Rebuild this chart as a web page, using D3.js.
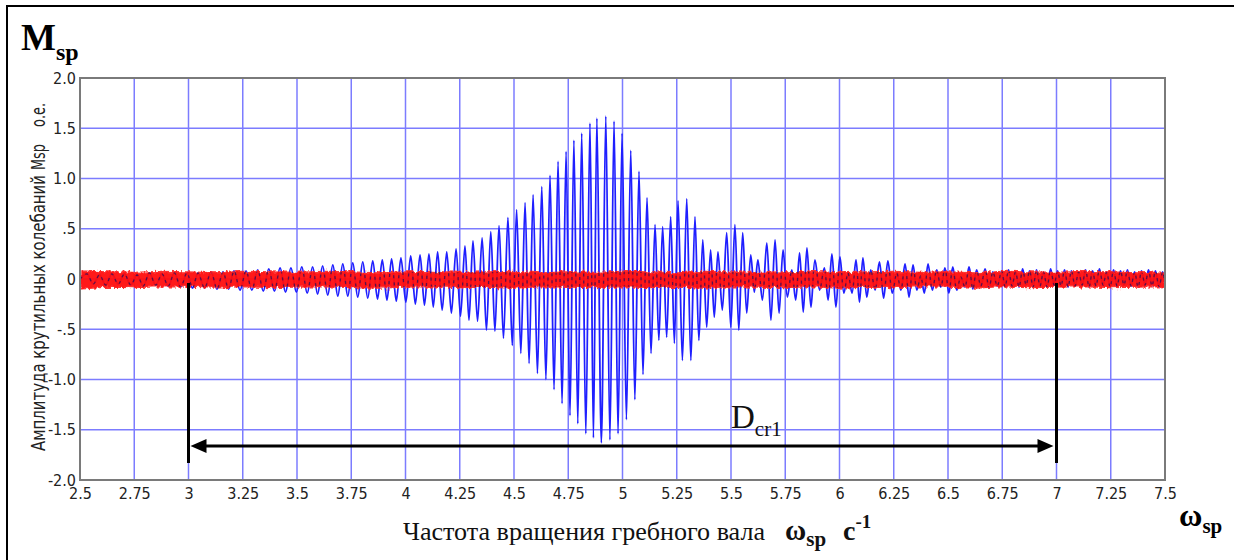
<!DOCTYPE html>
<html>
<head>
<meta charset="utf-8">
<script src="https://cdn.jsdelivr.net/npm/d3@7"></script>
<style>
  body { margin: 0; background: #fff; }
  svg { display: block; }
  .tick text { font-family: "Liberation Sans Narrow", "DejaVu Sans Condensed", Arial, sans-serif; font-size: 16px; fill: #222; }
  .pre { white-space: pre; }
</style>
</head>
<body>
<svg id="chart" width="1234" height="560"></svg>
<script>
// axis ticks and labels
var xTicks = [2.5, 2.75, 3, 3.25, 3.5, 3.75, 4, 4.25, 4.5, 4.75, 5, 5.25, 5.5, 5.75, 6, 6.25, 6.5, 6.75, 7, 7.25, 7.5];
var xTickLabels = ["2.5", "2.75", "3", "3.25", "3.5", "3.75", "4", "4.25", "4.5", "4.75", "5", "5.25", "5.5", "5.75", "6", "6.25", "6.5", "6.75", "7", "7.25", "7.5"];
var yTicks = [2, 1.5, 1, 0.5, 0, -0.5, -1, -1.5, -2];
var yTickLabels = ["2.0", "1.5", "1.0", ".5", "0", "-.5", "-1.0", "-1.5", "-2.0"];

// blue series: position of each oscillation top, its top value and the trough after it
var peakW = [2.532, 2.590, 2.647, 2.705, 2.763, 2.820, 2.878, 2.935,
  2.993, 3.044, 3.104, 3.159, 3.210, 3.265, 3.319, 3.370, 3.422, 3.472, 3.522, 3.572, 3.618, 3.665, 3.711, 3.757, 3.803, 3.849, 3.893, 3.936, 3.979, 4.024, 4.067, 4.108, 4.148,
  4.190, 4.233, 4.274, 4.311, 4.353, 4.393, 4.431, 4.472, 4.512, 4.551, 4.588, 4.628, 4.666, 4.703, 4.740, 4.776, 4.812, 4.850, 4.882, 4.923, 4.961, 4.998, 5.038, 5.076, 5.113, 5.150, 5.185, 5.222, 5.256, 5.296, 5.334, 5.370, 5.406, 5.440, 5.480, 5.518, 5.554, 5.591, 5.624, 5.665, 5.703, 5.740, 5.780,
  5.816, 5.850, 5.887, 5.930, 5.965, 6.002, 6.039, 6.076, 6.108, 6.144, 6.184, 6.223, 6.264, 6.302, 6.339, 6.374, 6.408, 6.448, 6.486, 6.522, 6.559, 6.597, 6.632, 6.671, 6.707, 6.747,
  6.779, 6.811, 6.844, 6.876, 6.908, 6.940, 6.973, 7.005, 7.037, 7.069, 7.102, 7.134, 7.166, 7.198, 7.231, 7.263, 7.295, 7.327, 7.360, 7.392, 7.424, 7.456, 7.489];
var peakHi = [0.05, 0.04, 0.05, 0.05, 0.04, 0.06, 0.05, 0.06,
  0.06, 0.06, 0.07, 0.07, 0.08, 0.08, 0.09, 0.10, 0.11, 0.11, 0.12, 0.12, 0.13, 0.14, 0.15, 0.16, 0.17, 0.18, 0.19, 0.20, 0.21, 0.23, 0.24, 0.25, 0.27,
  0.27, 0.30, 0.33, 0.38, 0.41, 0.47, 0.53, 0.61, 0.69, 0.76, 0.84, 0.92, 1.03, 1.17, 1.27, 1.38, 1.45, 1.55, 1.60, 1.62, 1.57, 1.45, 1.28, 1.07, 0.81, 0.54, 0.52, 0.62, 0.78, 0.80, 0.62, 0.39, 0.29, 0.27, 0.46, 0.54, 0.46, 0.24, 0.19, 0.36, 0.39, 0.29, 0.09,
  0.26, 0.31, 0.19, 0.11, 0.25, 0.22, 0.06, 0.19, 0.21, 0.09, 0.17, 0.18, 0.06, 0.15, 0.14, 0.03, 0.15, 0.09, 0.11, 0.12, 0.02, 0.12, 0.09, 0.10, 0.07, 0.08,
  0.09, 0.07, 0.10, 0.08, 0.09, 0.07, 0.10, 0.08, 0.09, 0.08, 0.07, 0.09, 0.08, 0.10, 0.07, 0.09, 0.08, 0.09, 0.07, 0.08, 0.09, 0.08, 0.07];
var peakLo = [-0.05, -0.06, -0.05, -0.06, -0.07, -0.06, -0.07, -0.08,
  -0.09, -0.09, -0.10, -0.10, -0.11, -0.11, -0.12, -0.12, -0.13, -0.13, -0.14, -0.15, -0.16, -0.17, -0.17, -0.18, -0.19, -0.20, -0.21, -0.22, -0.23, -0.25, -0.26, -0.28, -0.31,
  -0.34, -0.37, -0.41, -0.42, -0.51, -0.52, -0.59, -0.66, -0.74, -0.84, -0.94, -1.00, -1.10, -1.24, -1.36, -1.44, -1.54, -1.58, -1.63, -1.60, -1.54, -1.40, -1.20, -0.95, -0.74, -0.61, -0.58, -0.64, -0.81, -0.81, -0.61, -0.48, -0.38, -0.31, -0.48, -0.51, -0.34, -0.13, -0.21, -0.41, -0.34, -0.18, -0.21,
  -0.33, -0.28, -0.11, -0.21, -0.28, -0.14, -0.14, -0.23, -0.18, -0.11, -0.19, -0.14, -0.11, -0.18, -0.11, -0.14, -0.11, -0.08, -0.14, -0.11, -0.08, -0.10, -0.07, -0.09, -0.07, -0.08,
  -0.07, -0.08, -0.06, -0.08, -0.07, -0.08, -0.06, -0.07, -0.08, -0.07, -0.06, -0.08, -0.07, -0.06, -0.08, -0.07, -0.06, -0.07, -0.08, -0.06, -0.07, -0.08, -0.06];

// red series (dense noise band round zero): sample positions, upper and lower edge
var redW = [2.5, 2.625, 2.75, 2.875, 3, 3.125, 3.25, 3.375, 3.5, 3.625, 3.75, 3.875, 4, 4.125, 4.25, 4.375, 4.5, 4.625, 4.75, 4.875, 5,
  5.125, 5.25, 5.375, 5.5, 5.625, 5.75, 5.875, 6, 6.125, 6.25, 6.375, 6.5, 6.625, 6.75, 6.875, 7, 7.125, 7.25, 7.375, 7.5];
var redHi = [0.08, 0.07, 0.065, 0.075, 0.07, 0.06, 0.075, 0.07, 0.065, 0.075, 0.07, 0.06, 0.07, 0.075, 0.065, 0.07, 0.075, 0.06, 0.07, 0.065, 0.075,
  0.07, 0.06, 0.075, 0.07, 0.065, 0.07, 0.075, 0.06, 0.07, 0.075, 0.065, 0.07, 0.06, 0.075, 0.07, 0.065, 0.075, 0.07, 0.06, 0.07];
var redLo = [-0.10, -0.08, -0.085, -0.075, -0.08, -0.09, -0.075, -0.085, -0.08, -0.075, -0.085, -0.09, -0.08, -0.075, -0.085, -0.08, -0.09, -0.075, -0.08, -0.085, -0.075,
  -0.085, -0.08, -0.09, -0.075, -0.08, -0.085, -0.075, -0.09, -0.08, -0.085, -0.075, -0.08, -0.09, -0.075, -0.085, -0.08, -0.075, -0.085, -0.08, -0.075];

// critical zone marker
var dcrFrom = 3, dcrTo = 7;

var svg = d3.select("#chart");
var pLeft = 80, pRight = 1165, pTop = 78, pBottom = 480;
var x = d3.scaleLinear().domain([2.5, 7.5]).range([pLeft, pRight]);
var y = d3.scaleLinear().domain([-2, 2]).range([pBottom, pTop]);

svg.append("rect").attr("width", 1234).attr("height", 560).attr("fill", "#fff");

// rough edge for the noisy red band
var defs = svg.append("defs");
var rough = defs.append("filter").attr("id", "rough").attr("x", "-2%").attr("y", "-100%").attr("width", "104%").attr("height", "300%");
rough.append("feTurbulence").attr("type", "fractalNoise").attr("baseFrequency", "0.35 0.2").attr("numOctaves", 2).attr("seed", 3).attr("result", "n");
rough.append("feDisplacementMap").attr("in", "SourceGraphic").attr("in2", "n").attr("scale", 6)
  .attr("xChannelSelector", "R").attr("yChannelSelector", "G");

// outer frame of the figure
svg.append("path").attr("d", "M7,560 L7,6 L1234,6")
  .attr("fill", "none").attr("stroke", "#000").attr("stroke-width", 2);

// grid
var grid = svg.append("g").attr("stroke", "#7c7cff").attr("stroke-width", 1.5);
grid.selectAll(".vx").data(xTicks.slice(1, -1)).enter().append("line")
  .attr("x1", x).attr("x2", x).attr("y1", pTop).attr("y2", pBottom);
grid.selectAll(".hy").data(yTicks.slice(1, -1)).enter().append("line")
  .attr("x1", pLeft).attr("x2", pRight).attr("y1", y).attr("y2", y);

// build blue points: top, then trough half way to next top
var bluePts = [[2.5, 0]];
peakW.forEach(function(w, i) {
  bluePts.push([w, peakHi[i]]);
  var nx = i < peakW.length - 1 ? peakW[i + 1] : 7.5 + (7.5 - w);
  bluePts.push([(w + nx) / 2, peakLo[i]]);
});
var blueLine = d3.line().x(function(d) { return x(d[0]); }).y(function(d) { return y(d[1]); })
  .curve(d3.curveCatmullRom.alpha(0.5));

svg.append("clipPath").attr("id", "plotclip").append("rect")
  .attr("x", pLeft).attr("y", pTop).attr("width", pRight - pLeft).attr("height", pBottom - pTop);

var plot = svg.append("g").attr("clip-path", "url(#plotclip)");
plot.append("path").datum(bluePts).attr("d", blueLine)
  .attr("fill", "none").attr("stroke", "#1f1fff").attr("stroke-width", 1.8);

// red band
var redArea = d3.area().x(function(d, i) { return x(redW[i]); })
  .y0(function(d, i) { return y(redLo[i]); }).y1(function(d, i) { return y(redHi[i]); })
  .curve(d3.curveLinear);
plot.append("path").datum(redW).attr("d", redArea)
  .attr("fill", "#ff0a0a").attr("stroke", "#ff2a2a").attr("stroke-width", 1.5).attr("opacity", 0.95)
  .attr("filter", "url(#rough)");

// blue seen through the band looks dark
svg.append("clipPath").attr("id", "bandclip").append("path").datum(redW).attr("d", redArea);
plot.append("g").attr("clip-path", "url(#bandclip)").append("path").datum(bluePts).attr("d", blueLine)
  .attr("fill", "none").attr("stroke", "#1a1060").attr("stroke-width", 1.3).attr("opacity", 0.7)
  .attr("stroke-dasharray", "3,4");

// plot border
svg.append("rect").attr("x", pLeft).attr("y", pTop).attr("width", pRight - pLeft).attr("height", pBottom - pTop)
  .attr("fill", "none").attr("stroke", "#7a7a7a").attr("stroke-width", 2);

// axes
var yAxis = svg.append("g").attr("transform", "translate(" + pLeft + ",0)")
  .call(d3.axisLeft(y).tickValues(yTicks).tickSize(0).tickPadding(4)
    .tickFormat(function(d, i) { return yTickLabels[i]; }));
yAxis.select(".domain").remove();
var xAxis = svg.append("g").attr("transform", "translate(0," + pBottom + ")")
  .call(d3.axisBottom(x).tickValues(xTicks).tickSize(0).tickPadding(8)
    .tickFormat(function(d, i) { return xTickLabels[i]; }));
xAxis.select(".domain").remove();

// y title in three pieces, like the original
var sansN = "'Liberation Sans Narrow', 'DejaVu Sans Condensed', Arial, sans-serif";
var yTitle = [
  { t: "Амплитуда крутильных колебаний", at: 451, len: 276 },
  { t: "Msp", at: 170, len: 26 },
  { t: "о.е.", at: 127, len: 24 }
];
svg.selectAll(".ytitle").data(yTitle).enter().append("text")
  .attr("transform", function(d) { return "translate(45," + d.at + ") rotate(-90)"; })
  .attr("font-family", sansN).attr("font-size", 19).attr("fill", "#222")
  .attr("textLength", function(d) { return d.len; }).attr("lengthAdjust", "spacingAndGlyphs")
  .text(function(d) { return d.t; });

// D_cr1 marker
var mk = svg.append("g").attr("stroke", "#000").attr("stroke-width", 3);
mk.append("line").attr("x1", x(dcrFrom)).attr("x2", x(dcrFrom)).attr("y1", y(-0.04)).attr("y2", 463);
mk.append("line").attr("x1", x(dcrTo)).attr("x2", x(dcrTo)).attr("y1", y(-0.04)).attr("y2", 463);
mk.append("line").attr("x1", x(dcrFrom) + 12).attr("x2", x(dcrTo) - 12).attr("y1", 446).attr("y2", 446);
svg.append("path")
  .attr("d", "M" + (x(dcrFrom) + 2) + ",446 l16,-7 l0,14 z M" + (x(dcrTo) - 3) + ",446 l-16,-7 l0,14 z")
  .attr("fill", "#000");

var serif = "'Liberation Serif', 'Times New Roman', serif";
var dcr = svg.append("text").attr("x", 731).attr("y", 428)
  .attr("font-family", serif).attr("font-size", 33).attr("fill", "#111");
dcr.append("tspan").text("D");
dcr.append("tspan").attr("font-size", 21).attr("dy", 8).text("cr1");

// M_sp
var ms = svg.append("text").attr("x", 21).attr("y", 50)
  .attr("font-family", serif).attr("font-size", 37).attr("font-weight", "bold").attr("fill", "#000");
ms.append("tspan").text("M");
ms.append("tspan").attr("font-size", 24).attr("dy", 10).text("sp");

// omega_sp at right
var om = svg.append("text").attr("x", 1179).attr("y", 526)
  .attr("font-family", serif).attr("font-size", 32).attr("font-weight", "bold").attr("fill", "#000");
om.append("tspan").text("ω");
om.append("tspan").attr("font-size", 21).attr("dy", 7).text("sp");

// x title
var xt = svg.append("text").attr("class", "pre").attr("x", 403).attr("y", 540)
  .attr("font-family", serif).attr("font-size", 25).attr("fill", "#111");
xt.append("tspan").attr("textLength", 362).attr("lengthAdjust", "spacingAndGlyphs").text("Частота вращения гребного вала");
xt.append("tspan").attr("x", 785).attr("font-weight", "bold").attr("font-size", 29).text("ω");
xt.append("tspan").attr("font-weight", "bold").attr("font-size", 21).attr("dy", 6).text("sp");
xt.append("tspan").attr("x", 843).attr("font-weight", "bold").attr("font-size", 28).attr("dy", -6).text("c");
xt.append("tspan").attr("font-weight", "bold").attr("font-size", 19).attr("dy", -12).text("-1");
</script>
</body>
</html>
